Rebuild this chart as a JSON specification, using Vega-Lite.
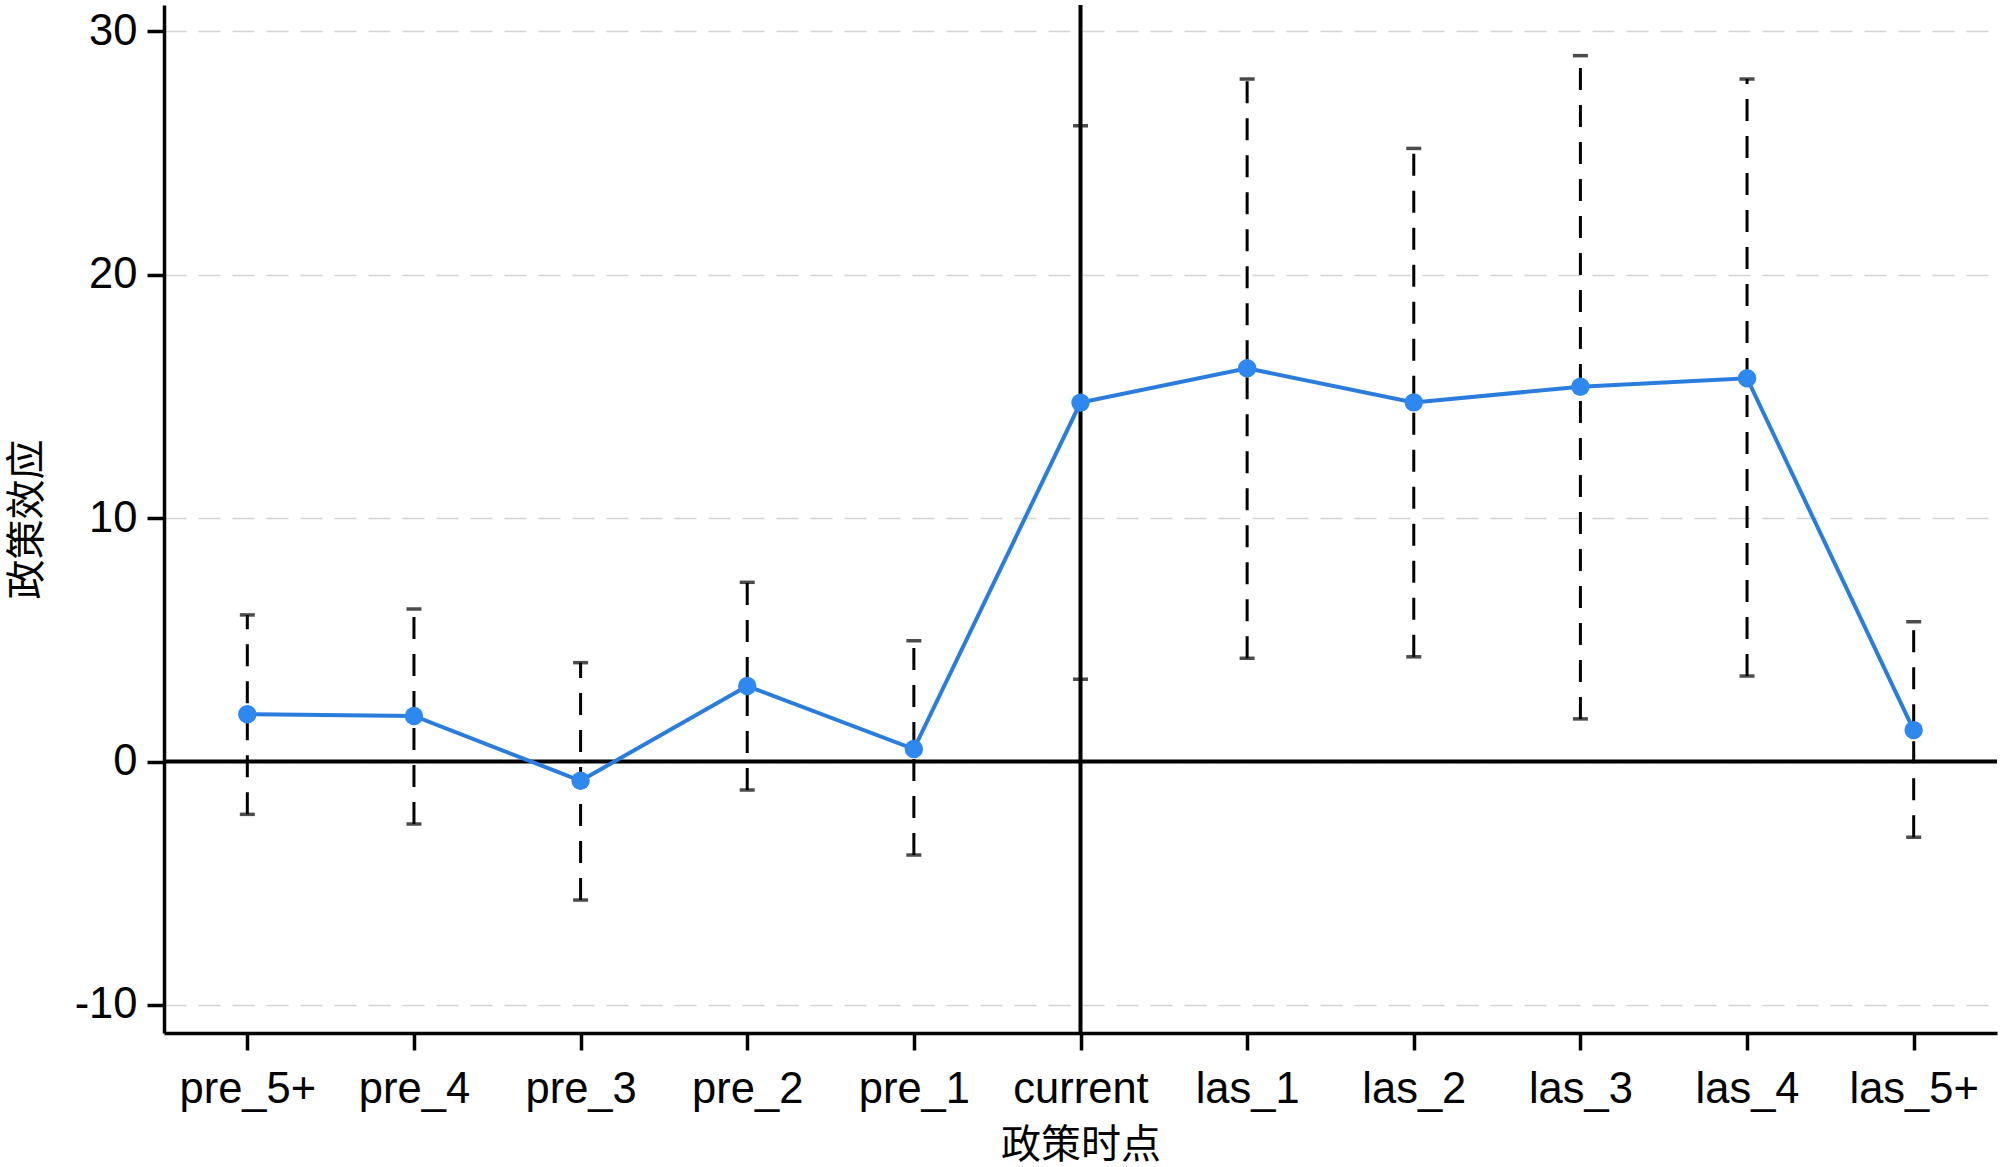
{
  "$schema": "https://vega.github.io/schema/vega-lite/v6.json",
  "autosize": "none",
  "width": 1833,
  "height": 1028,
  "padding": {"left": 164, "top": 5, "right": 3, "bottom": 134},
  "background": "white",
  "config": {
    "view": {"stroke": null},
    "axis": {
      "labelFont": "Liberation Sans",
      "labelFontSize": 43.5,
      "labelColor": "#000000",
      "domainColor": "#000000",
      "domainWidth": 3.5,
      "tickColor": "#000000",
      "tickWidth": 3.5,
      "tickSize": 17,
      "titleFont": "Noto Sans CJK SC",
      "titleFontSize": 40,
      "titleFontWeight": "normal",
      "titleColor": "#000000"
    }
  },
  "data": {
    "values": [
      {"period": "pre_5+", "coef": 1.94, "lo": -2.17, "hi": 6.02},
      {"period": "pre_4", "coef": 1.87, "lo": -2.57, "hi": 6.26},
      {"period": "pre_3", "coef": -0.79, "lo": -5.69, "hi": 4.06},
      {"period": "pre_2", "coef": 3.10, "lo": -1.17, "hi": 7.36},
      {"period": "pre_1", "coef": 0.51, "lo": -3.84, "hi": 4.96},
      {"period": "current", "coef": 14.74, "lo": 3.38, "hi": 26.11},
      {"period": "las_1", "coef": 16.15, "lo": 4.24, "hi": 28.03},
      {"period": "las_2", "coef": 14.75, "lo": 4.30, "hi": 25.18},
      {"period": "las_3", "coef": 15.39, "lo": 1.75, "hi": 28.99},
      {"period": "las_4", "coef": 15.74, "lo": 3.51, "hi": 28.03},
      {"period": "las_5+", "coef": 1.29, "lo": -3.11, "hi": 5.74}
    ]
  },
  "encoding": {
    "x": {
      "field": "period",
      "type": "nominal",
      "scale": {
        "type": "point",
        "padding": 0.5,
        "domain": ["pre_5+", "pre_4", "pre_3", "pre_2", "pre_1", "current", "las_1", "las_2", "las_3", "las_4", "las_5+"]
      },
      "axis": {
        "title": "政策时点",
        "labelAngle": 0,
        "labelBaseline": "alphabetic",
        "labelPadding": 52,
        "titleBaseline": "middle",
        "titleY": 112,
        "grid": false
      }
    }
  },
  "layer": [
    {
      "mark": {"type": "rule", "stroke": "#000000", "strokeWidth": 3, "strokeDash": [22, 15]},
      "encoding": {
        "y": {
          "field": "lo",
          "type": "quantitative",
          "scale": {"domain": [-11.15, 31.07], "nice": false, "zero": false},
          "axis": {
            "title": "政策效应",
            "values": [-10, 0, 10, 20, 30],
            "labelExpr": "'' + datum.value",
            "labelPadding": 10,
            "labelBaseline": "middle",
            "grid": true,
            "gridColor": "#d4d4d4",
            "gridWidth": 1.5,
            "gridDash": [22, 12],
            "titleBaseline": "middle",
            "titleX": -137,
            "titleY": 514
          }
        },
        "y2": {"field": "hi"}
      }
    },
    {
      "mark": {"type": "tick", "color": "#000000", "size": 15, "thickness": 3.5, "orient": "horizontal"},
      "encoding": {"y": {"field": "hi", "type": "quantitative"}}
    },
    {
      "mark": {"type": "tick", "color": "#000000", "size": 15, "thickness": 3.5, "orient": "horizontal"},
      "encoding": {"y": {"field": "lo", "type": "quantitative"}}
    },
    {
      "data": {"values": [{"ref": 0}]},
      "mark": {"type": "rule", "stroke": "#000000", "strokeWidth": 4},
      "encoding": {"x": null, "y": {"field": "ref", "type": "quantitative"}}
    },
    {
      "data": {"values": [{"period": "current"}]},
      "mark": {"type": "rule", "stroke": "#000000", "strokeWidth": 4},
      "encoding": {}
    },
    {
      "mark": {"type": "line", "stroke": "#2A7DDC", "strokeWidth": 4},
      "encoding": {"y": {"field": "coef", "type": "quantitative"}}
    },
    {
      "mark": {"type": "point", "filled": true, "fill": "#2E88EE", "opacity": 1, "size": 340, "shape": "circle"},
      "encoding": {"y": {"field": "coef", "type": "quantitative"}}
    }
  ]
}
